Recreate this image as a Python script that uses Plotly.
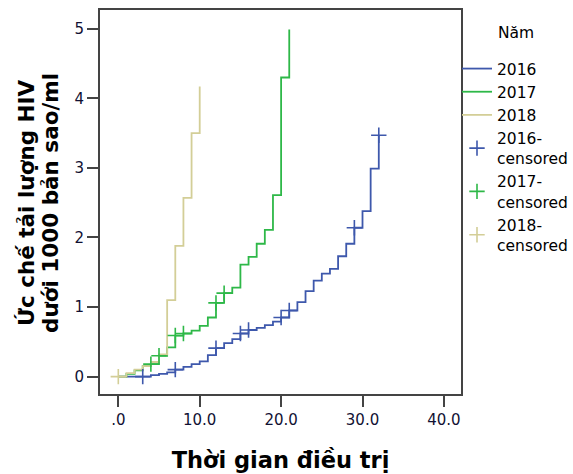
import plotly.graph_objects as go

# ---- data ----
t_2016 = [0, 3, 4, 5, 6, 7, 8, 9, 10, 11, 12, 13, 14, 15, 16, 17, 18, 19, 20, 21, 22, 23, 24, 25, 26, 27, 28, 29, 30, 31, 32]
h_2016 = [0, 0.0, 0.02, 0.04, 0.06, 0.10, 0.14, 0.18, 0.22, 0.31, 0.41, 0.48, 0.54, 0.62, 0.67, 0.70, 0.74, 0.79, 0.85, 0.95, 1.07, 1.23, 1.38, 1.48, 1.55, 1.73, 1.91, 2.14, 2.38, 2.99, 3.47]
cens_t_2016 = [3, 7, 12, 15, 16, 20, 21, 29, 32]
cens_h_2016 = [0.0, 0.10, 0.41, 0.62, 0.67, 0.85, 0.95, 2.14, 3.47]

t_2017 = [0, 1, 2, 3, 4, 5, 6, 7, 8, 9, 10, 11, 12, 13, 14, 15, 16, 17, 18, 19, 20, 21]
h_2017 = [0, 0.04, 0.09, 0.15, 0.18, 0.30, 0.42, 0.59, 0.62, 0.66, 0.73, 0.85, 1.06, 1.20, 1.28, 1.61, 1.72, 1.91, 2.11, 2.61, 4.30, 4.99]
cens_t_2017 = [4, 5, 7, 8, 12, 13]
cens_h_2017 = [0.18, 0.30, 0.59, 0.62, 1.06, 1.20]

t_2018 = [0, 1, 2, 3, 4, 5, 6, 7, 8, 9, 10]
h_2018 = [0, 0.05, 0.10, 0.15, 0.21, 0.32, 1.10, 1.88, 2.57, 3.50, 4.17]
cens_t_2018 = [0]
cens_h_2018 = [0]

x_tickvals = [0, 10, 20, 30, 40]
x_ticktext = [".0", "10.0", "20.0", "30.0", "40.0"]
y_tickvals = [0, 1, 2, 3, 4, 5]

colors = {"2016": "#3E58AC", "2017": "#2EB848", "2018": "#D3CE97"}
FONT = "DejaVu Sans"

# plot-area geometry in pixels
W, H = 573, 474
L, R, T, B = 100, 112, 10, 80
PW, PH = W - L - R, H - T - B


def px(x):
    return (x - L) / PW


def py(y):
    return (H - B - y) / PH


fig = go.Figure()
for name, t, h in [("2016", t_2016, h_2016), ("2017", t_2017, h_2017), ("2018", t_2018, h_2018)]:
    fig.add_trace(go.Scatter(x=t, y=h, mode="lines", name=name,
                             line=dict(color=colors[name], width=1.8, shape="hv")))
for name, t, h in [("2016", cens_t_2016, cens_h_2016),
                   ("2017", cens_t_2017, cens_h_2017),
                   ("2018", cens_t_2018, cens_h_2018)]:
    fig.add_trace(go.Scatter(x=t, y=h, mode="markers", name=name + "-<br>censored",
                             marker=dict(symbol="cross-thin", size=11,
                                         line=dict(color=colors[name], width=1.6))))

fig.update_layout(
    width=W, height=H,
    margin=dict(l=L, r=R, t=T, b=B, autoexpand=False),
    paper_bgcolor="white", plot_bgcolor="white",
    font=dict(family=FONT, size=15, color="black"),
    legend=dict(x=px(457), y=py(52), xanchor="left", yanchor="top",
                font=dict(size=15.5, color="black"), tracegroupgap=0,
                bgcolor="rgba(0,0,0,0)"),
    annotations=[
        dict(text="Năm", x=px(496), y=py(33), xref="paper", yref="paper",
             xanchor="left", yanchor="middle", showarrow=False, font=dict(size=15.5)),
        dict(text="<b>Ức chế tải lượng HIV</b>", x=px(26), y=py(203), xref="paper", yref="paper",
             xanchor="center", yanchor="middle", textangle=-90, showarrow=False,
             font=dict(size=21.5)),
        dict(text="<b>dưới 1000 bản sao/ml</b>", x=px(50), y=py(203), xref="paper", yref="paper",
             xanchor="center", yanchor="middle", textangle=-90, showarrow=False,
             font=dict(size=21.5)),
    ],
)

fig.update_xaxes(range=[-2.25, 42.1], tickvals=x_tickvals, ticktext=x_ticktext,
                 automargin=False,
                 showgrid=False, zeroline=False, showline=True, mirror=True,
                 linecolor="#444444", linewidth=2, ticks="outside", ticklen=11, tickwidth=2,
                 tickcolor="#444444", tickfont=dict(size=15, color="#111133"),
                 title=dict(text="<b>Thời gian điều trị</b>", font=dict(size=22.5), standoff=24))
fig.update_yaxes(range=[-0.25, 5.27], tickvals=y_tickvals, automargin=False,
                 showgrid=False, zeroline=False, showline=True, mirror=True,
                 linecolor="#444444", linewidth=2, ticks="outside", ticklen=11, tickwidth=2,
                 tickcolor="#444444", tickfont=dict(size=15, color="#111133"))

fig.write_html("out.html", config={"displayModeBar": False},
               post_script="document.body.style.margin='0px';")
